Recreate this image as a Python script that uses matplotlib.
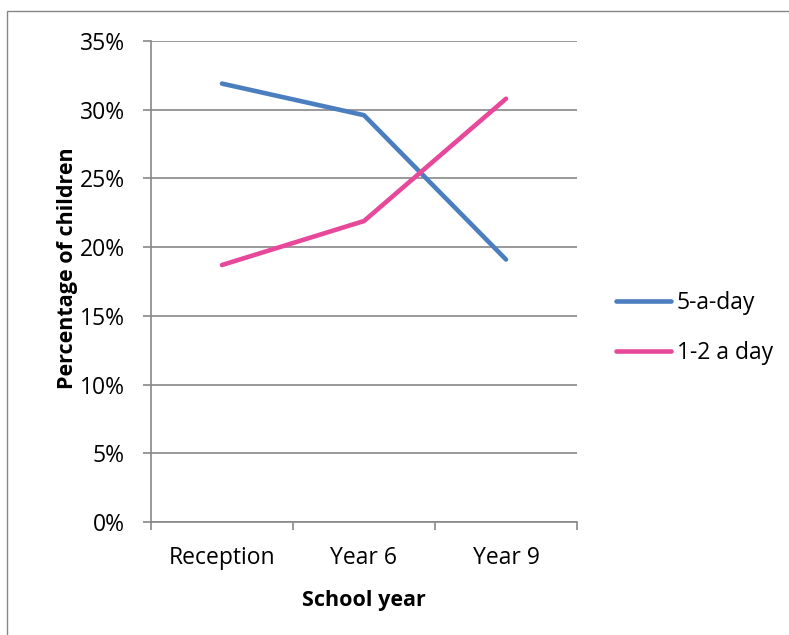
import matplotlib
matplotlib.use("Agg")
import matplotlib.pyplot as plt
from matplotlib.patches import Rectangle
from matplotlib.ticker import FuncFormatter, MultipleLocator

# Share of children by school year (percent)
school_years = ["Reception", "Year 6", "Year 9"]
five_a_day = [31.9, 29.6, 19.1]
one_two_a_day = [18.7, 21.9, 30.8]

BLUE = "#4A7EBE"
PINK = "#E8489A"
GRID = "#878787"
FS = 16.5        # tick / legend text
FS_BOLD = 15.5   # axis titles

plt.rcParams["font.family"] = ["Open Sans", "DejaVu Sans"]

W, H = 789, 635
fig = plt.figure(figsize=(W / 100, H / 100), dpi=100)
fig.patch.set_facecolor("white")

# chart-area border (runs off the right and bottom edges)
fig.patches.append(Rectangle((7 / W, -0.1), 1.2, 1.1 - 11 / H,
                             transform=fig.transFigure, fill=False,
                             edgecolor=GRID, lw=1.0))

ax = fig.add_axes([151 / W, (H - 522) / H, 426 / W, 481 / H])
x = range(len(school_years))
ax.plot(x, five_a_day, color=BLUE, lw=3.3, solid_capstyle="round",
        solid_joinstyle="round", label="5-a-day")
ax.plot(x, one_two_a_day, color=PINK, lw=3.3, solid_capstyle="round",
        solid_joinstyle="round", label="1-2 a day")

ax.set_xlim(-0.5, len(school_years) - 0.5)
ax.set_ylim(0, 35)
ax.yaxis.set_major_locator(MultipleLocator(5))
ax.yaxis.set_major_formatter(FuncFormatter(lambda v, _: f"{v:.0f}%"))
# category boundaries carry the tick marks, labels sit between them
ax.set_xticks([i - 0.5 for i in range(len(school_years) + 1)])
ax.set_xticklabels([])
ax.set_xticks(list(x), minor=True)
ax.set_xticklabels(school_years, minor=True)
ax.tick_params(axis="x", which="minor", length=0, pad=17, labelsize=FS)
ax.tick_params(axis="x", which="major", length=6, color=GRID, width=1.2)
ax.tick_params(axis="y", length=6, color=GRID, width=1.2, pad=13, labelsize=FS)

ax.grid(axis="y", color=GRID, lw=1.2)
ax.set_axisbelow(True)
for side in ("top", "right"):
    ax.spines[side].set_visible(False)
for side in ("left", "bottom"):
    ax.spines[side].set_color(GRID)
    ax.spines[side].set_linewidth(1.2)

ax.set_xlabel("School year", fontsize=FS_BOLD, fontweight="bold", labelpad=15)
ax.set_ylabel("Percentage of children", fontsize=FS_BOLD, fontweight="bold")
ax.yaxis.set_label_coords((73 - 151) / 426, (522 - 268) / 481)
ax.yaxis.label.set_va("baseline")

ax.legend(loc="center left", bbox_to_anchor=(465 / 426, (522 - 328) / 481),
          frameon=False, fontsize=FS, handlelength=2.4, handletextpad=0.25,
          labelspacing=1.15, borderpad=0, borderaxespad=0)

fig.savefig("out.png", dpi=100)
